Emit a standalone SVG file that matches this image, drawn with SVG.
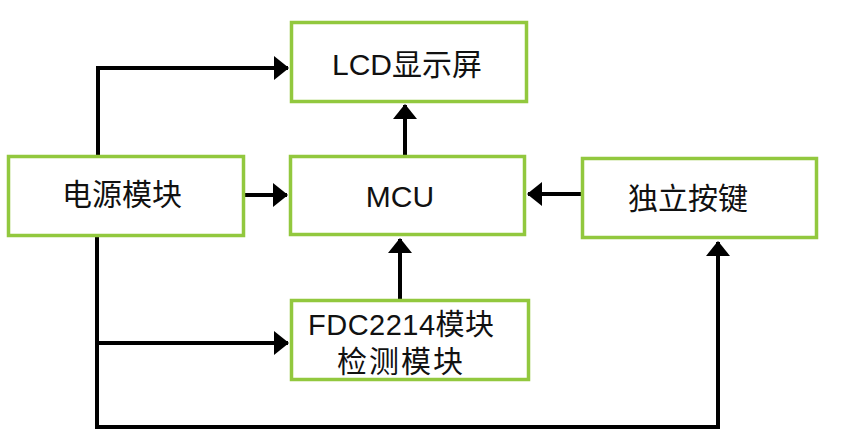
<svg xmlns="http://www.w3.org/2000/svg" width="865" height="438" viewBox="0 0 865 438">
<style>
.box{fill:#fff;stroke:#92c83e;stroke-width:3.5}
.lbl{font-family:"Liberation Sans","Noto Sans CJK SC",sans-serif;font-size:30px;fill:#111;text-anchor:middle}
.con{fill:none;stroke:#000;stroke-width:4;stroke-linejoin:miter}
</style>
<defs>
<marker id="ah" markerUnits="userSpaceOnUse" markerWidth="15" markerHeight="25" refX="14" refY="12.5" orient="auto" viewBox="0 0 15 25">
<path d="M0,0.5 L15,12.5 L0,24.5 z" fill="#000"/>
</marker>
</defs>
<rect width="865" height="438" fill="#fff"/>
<g id="connectors">
<path class="con" d="M98,155 V68 H288" marker-end="url(#ah)"/>
<path class="con" d="M245,195 H287" marker-end="url(#ah)"/>
<path class="con" d="M405,155 V105" marker-end="url(#ah)"/>
<path class="con" d="M581,194 H528" marker-end="url(#ah)"/>
<path class="con" d="M400,299 V239" marker-end="url(#ah)"/>
<path class="con" d="M97,237 V427 H718 V242" marker-end="url(#ah)"/>
<path class="con" d="M97,343 H288" marker-end="url(#ah)"/>
</g>
<g id="lcd">
<rect class="box" x="291.5" y="22.5" width="235" height="79"/>
<text class="lbl" x="407" y="75">LCD显示屏</text>
</g>
<g id="power">
<rect class="box" x="8.5" y="156.5" width="235" height="79"/>
<text class="lbl" x="122" y="205">电源模块</text>
</g>
<g id="mcu">
<rect class="box" x="290.5" y="156.5" width="234" height="78"/>
<text class="lbl" x="400" y="207">MCU</text>
</g>
<g id="keys">
<rect class="box" x="582.5" y="158.5" width="234" height="79"/>
<text class="lbl" x="688" y="209">独立按键</text>
</g>
<g id="fdc">
<rect class="box" x="291.5" y="300.5" width="237" height="79"/>
<text class="lbl" x="308" y="335" style="text-anchor:start;font-size:29px;letter-spacing:0.5px">FDC2214模块</text>
<text class="lbl" x="337" y="372" style="text-anchor:start;letter-spacing:2px">检测模块</text>
</g>
</svg>
